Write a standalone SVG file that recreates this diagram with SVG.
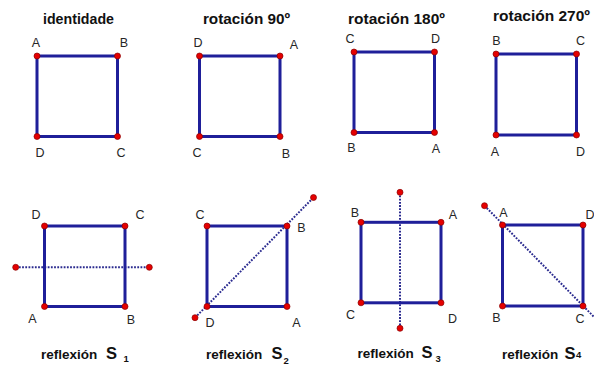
<svg xmlns="http://www.w3.org/2000/svg" width="594" height="365" viewBox="0 0 594 365">
<style>
.sq{fill:none;stroke:#1f1f99;stroke-width:3;stroke-linejoin:miter}
.ax{fill:none;stroke:#2b2b8f;stroke-width:2;stroke-dasharray:1.8 1.4}
.pt{fill:#e50000;stroke:#8a0000;stroke-width:0.7}
.lb{font-family:"Liberation Sans",Arial,sans-serif;font-size:12.5px;fill:#262626;text-anchor:middle}
.tt{font-family:"Liberation Sans",Arial,sans-serif;font-weight:bold;fill:#111;text-anchor:middle}
.rf{font-family:"Liberation Sans",Arial,sans-serif;font-weight:bold;fill:#111;font-size:13.5px}
.s{font-size:16.5px}
.sub{font-size:9.5px}
</style>
<rect width="594" height="365" fill="#fff"/>

<g id="identidade">
<text class="tt" x="78.5" y="24" font-size="14.2">identidade</text>
<rect class="sq" x="37" y="56" width="80.5" height="80.5"/>
<circle class="pt" cx="37" cy="56" r="3"/><circle class="pt" cx="117.5" cy="56" r="3"/>
<circle class="pt" cx="37" cy="136.5" r="3"/><circle class="pt" cx="117.5" cy="136.5" r="3"/>
<text class="lb" x="36" y="47">A</text><text class="lb" x="124" y="47">B</text>
<text class="lb" x="40" y="157">D</text><text class="lb" x="121" y="157">C</text>
</g>

<g id="rotacion90">
<text class="tt" x="246.5" y="24" font-size="15.3">rotación 90º</text>
<rect class="sq" x="199.5" y="56" width="80.5" height="80.5"/>
<circle class="pt" cx="199.5" cy="56" r="3"/><circle class="pt" cx="280" cy="56" r="3"/>
<circle class="pt" cx="199.5" cy="136.5" r="3"/><circle class="pt" cx="280" cy="136.5" r="3"/>
<text class="lb" x="198" y="47">D</text><text class="lb" x="294" y="49">A</text>
<text class="lb" x="197" y="157">C</text><text class="lb" x="286" y="158">B</text>
</g>

<g id="rotacion180">
<text class="tt" x="396.5" y="24" font-size="15.5">rotación 180º</text>
<rect class="sq" x="354" y="52" width="80.5" height="80.5"/>
<circle class="pt" cx="354" cy="52" r="3"/><circle class="pt" cx="434.5" cy="52" r="3"/>
<circle class="pt" cx="354" cy="132.5" r="3"/><circle class="pt" cx="434.5" cy="132.5" r="3"/>
<text class="lb" x="350" y="43">C</text><text class="lb" x="435.5" y="43">D</text>
<text class="lb" x="351.5" y="152">B</text><text class="lb" x="436" y="153">A</text>
</g>

<g id="rotacion270">
<text class="tt" x="541.5" y="21" font-size="15.5">rotación 270º</text>
<rect class="sq" x="496" y="54" width="80.5" height="81"/>
<circle class="pt" cx="496" cy="54" r="3"/><circle class="pt" cx="576.5" cy="54" r="3"/>
<circle class="pt" cx="496" cy="135" r="3"/><circle class="pt" cx="576.5" cy="135" r="3"/>
<text class="lb" x="496.5" y="45">B</text><text class="lb" x="580.5" y="45">C</text>
<text class="lb" x="495" y="156">A</text><text class="lb" x="580.5" y="156">D</text>
</g>

<g id="connectors">
<line class="ax" x1="15.7" y1="267.3" x2="149.3" y2="267.3"/>
<line class="ax" x1="195" y1="317.7" x2="313.5" y2="197.5"/>
<line class="ax" x1="400" y1="192.3" x2="400" y2="328.3"/>
<line class="ax" x1="484.5" y1="205.7" x2="598" y2="321"/>
</g>

<g id="reflexion1">
<rect class="sq" x="44.5" y="226" width="80.5" height="80.5"/>
<circle class="pt" cx="15.7" cy="267.3" r="3"/><circle class="pt" cx="149.3" cy="267.3" r="3"/>
<circle class="pt" cx="44.5" cy="226" r="3"/><circle class="pt" cx="125" cy="226" r="3"/>
<circle class="pt" cx="44.5" cy="306.5" r="3"/><circle class="pt" cx="125" cy="306.5" r="3"/>
<text class="lb" x="36" y="219">D</text><text class="lb" x="140" y="219">C</text>
<text class="lb" x="32.5" y="323">A</text><text class="lb" x="131" y="324">B</text>
<text class="rf" x="41" y="359">reflexión <tspan class="s" x="106">S</tspan><tspan class="sub" x="123.5" y="362">1</tspan></text>
</g>

<g id="reflexion2">
<rect class="sq" x="207" y="226" width="80" height="80.5"/>
<circle class="pt" cx="195" cy="317.7" r="3"/><circle class="pt" cx="313.5" cy="197.5" r="3"/>
<circle class="pt" cx="207" cy="226" r="3"/><circle class="pt" cx="287" cy="226" r="3"/>
<circle class="pt" cx="207" cy="306.5" r="3"/><circle class="pt" cx="287" cy="306.5" r="3"/>
<text class="lb" x="200" y="219">C</text><text class="lb" x="301.5" y="231.5">B</text>
<text class="lb" x="210" y="326.5">D</text><text class="lb" x="296.5" y="326.5">A</text>
<text class="rf" x="206" y="359">reflexión <tspan class="s" x="271.5">S</tspan><tspan class="sub" x="283.5" y="364">2</tspan></text>
</g>

<g id="reflexion3">
<rect class="sq" x="361" y="222.3" width="80" height="80.5"/>
<circle class="pt" cx="400" cy="192.3" r="3"/><circle class="pt" cx="400" cy="328.3" r="3"/>
<circle class="pt" cx="361" cy="222.3" r="3"/><circle class="pt" cx="441" cy="222.3" r="3"/>
<circle class="pt" cx="361" cy="302.8" r="3"/><circle class="pt" cx="441" cy="302.8" r="3"/>
<text class="lb" x="355" y="217">B</text><text class="lb" x="453" y="219">A</text>
<text class="lb" x="350.5" y="319">C</text><text class="lb" x="452.5" y="322.5">D</text>
<text class="rf" x="357.5" y="358">reflexión <tspan class="s" x="421.5">S</tspan><tspan class="sub" x="435.5" y="361.5">3</tspan></text>
</g>

<g id="reflexion4">
<rect class="sq" x="502.5" y="225" width="80.5" height="81"/>
<circle class="pt" cx="484.5" cy="205.7" r="3"/>
<circle class="pt" cx="502.5" cy="225" r="3"/><circle class="pt" cx="583" cy="225" r="3"/>
<circle class="pt" cx="502.5" cy="306" r="3"/><circle class="pt" cx="583" cy="306" r="3"/>
<text class="lb" x="503.5" y="216.5">A</text><text class="lb" x="590" y="219">D</text>
<text class="lb" x="496.5" y="321.5">B</text><text class="lb" x="580" y="323">C</text>
<text class="rf" x="502" y="359">reflexión <tspan class="s" x="564.5">S</tspan><tspan class="sub" x="576" y="357.5">4</tspan></text>
</g>
</svg>
